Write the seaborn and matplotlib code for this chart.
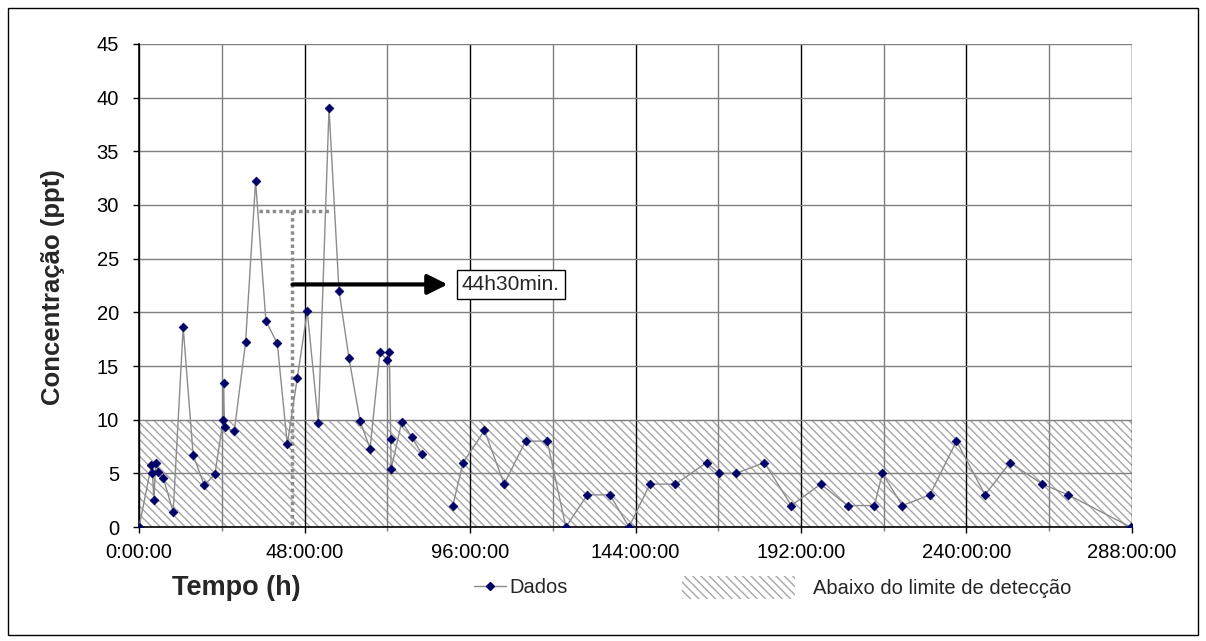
import matplotlib
matplotlib.use("Agg")
import matplotlib.pyplot as plt
from matplotlib.lines import Line2D
from matplotlib.patches import Patch, Rectangle
from matplotlib.ticker import MultipleLocator, FuncFormatter
import seaborn as sns
import pandas as pd

# tempo em horas desde o inicio da coleta
tempo_1 = [0, 3.6, 3.9, 4.3, 4.8, 5.6, 7.0, 9.9, 12.8, 15.7, 18.9, 22.0,
           24.4, 24.5, 24.8, 27.6, 30.9, 33.8, 36.8, 40.1, 43.0, 45.9, 48.8,
           52.0, 55.1, 58.0, 60.9, 64.1, 67.0, 69.9, 71.8, 72.6, 73.0, 73.1,
           76.2, 79.1, 82.0]
conc_1 = [0, 5.8, 5.0, 2.5, 6.0, 5.1, 4.6, 1.4, 18.6, 6.7, 3.9, 4.9,
          10.0, 13.4, 9.3, 8.9, 17.2, 32.2, 19.2, 17.1, 7.7, 13.9, 20.1,
          9.7, 39.0, 22.0, 15.7, 9.9, 7.3, 16.3, 15.6, 16.3, 8.2, 5.4,
          9.8, 8.4, 6.8]
tempo_2 = [91.0, 94.0, 100.2, 105.9, 112.1, 118.4, 123.8, 130.0, 136.6,
           142.1, 148.2, 155.6, 164.6, 168.3, 173.1, 181.4, 189.2, 197.7,
           205.5, 213.3, 215.6, 221.4, 229.4, 237.1, 245.4, 252.6, 262.0,
           269.5, 287.6]
conc_2 = [2, 6, 9, 4, 8, 8, 0, 3, 3, 0, 4, 4, 6, 5, 5, 6, 2, 4, 2, 2, 5,
          2, 3, 8, 3, 6, 4, 3, 0]

limite_deteccao = 10
t_meia = 44.5          # 44h30min
c_meia = 29.45
t_pico1, t_pico2 = 34.9, 55.4
y_seta = 22.6
x_ticks = [0, 48, 96, 144, 192, 240, 288]

df = pd.DataFrame({
    "tempo": tempo_1 + tempo_2,
    "conc": conc_1 + conc_2,
    "trecho": [1] * len(tempo_1) + [2] * len(tempo_2),
})

sns.set_style("white")
plt.rcParams["font.family"] = ["Liberation Sans", "DejaVu Sans"]
plt.rcParams["hatch.linewidth"] = 1.0

fig = plt.figure(figsize=(12.06, 6.41), dpi=100)
ax = fig.add_axes([0.1153, 0.1778, 0.8233, 0.7536])

# faixa abaixo do limite de deteccao (atras da grade)
ax.axhspan(0, limite_deteccao, facecolor="none", edgecolor="#a6a6a6",
           hatch="\\\\\\\\", linewidth=0, zorder=0.3)

sns.lineplot(data=df, x="tempo", y="conc", units="trecho", estimator=None,
             sort=False, color="#8c8c8c", linewidth=1, ax=ax, zorder=3)
sns.scatterplot(data=df, x="tempo", y="conc", marker="D", s=20,
                color="#000066", edgecolor="#000066", linewidth=0.5,
                ax=ax, zorder=4)

# linhas pontilhadas da meia-vida
ax.plot([t_pico1, t_pico2], [c_meia, c_meia], color="#8c8c8c",
        linestyle=(0, (1, 0.9)), linewidth=2.5, zorder=2)
ax.plot([t_meia, t_meia], [c_meia, 0], color="#8c8c8c",
        linestyle=(0, (1, 0.9)), linewidth=2.5, zorder=2)

ax.annotate("", xy=(89.5, y_seta), xytext=(t_meia, y_seta),
            arrowprops=dict(arrowstyle="-|>", color="black", lw=3,
                            mutation_scale=30, shrinkA=0, shrinkB=0),
            zorder=5)
ax.text(93.6, y_seta, "44h30min.", ha="left", va="center", fontsize=15,
        bbox=dict(boxstyle="square,pad=0.25", facecolor="white",
                  edgecolor="black", linewidth=1), zorder=6)

ax.set_xlim(0, 288)
ax.set_ylim(0, 45)
ax.set_xticks(x_ticks)
ax.xaxis.set_minor_locator(MultipleLocator(24))
ax.yaxis.set_major_locator(MultipleLocator(5))
ax.xaxis.set_major_formatter(FuncFormatter(lambda v, p: f"{int(v)}:00:00"))
ax.set_xlabel("")
ax.set_ylabel("")

ax.set_axisbelow(True)
ax.grid(which="major", axis="x", color="black", linewidth=1)
ax.grid(which="minor", axis="x", color="#7f7f7f", linewidth=1)
ax.grid(which="major", axis="y", color="#7f7f7f", linewidth=1)

for side in ["top", "right"]:
    ax.spines[side].set_visible(False)
for side in ["left", "bottom"]:
    ax.spines[side].set_color("black")
    ax.spines[side].set_linewidth(1.2)

ax.tick_params(axis="both", which="major", direction="out", length=4.5,
               width=1, color="black", labelsize=14.5, labelcolor="black",
               left=True, bottom=True)
ax.tick_params(axis="y", which="major", pad=10)
ax.tick_params(axis="x", which="major", pad=7)
ax.tick_params(axis="x", which="minor", direction="out", length=3,
               width=1, color="#7f7f7f", bottom=True)

fig.text(0.044, 0.552, "Concentração (ppt)", rotation=90, ha="center",
         va="center", fontsize=18.5, fontweight="bold")
fig.text(0.1957, 0.083, "Tempo (h)", ha="center", va="center",
         fontsize=19.5, fontweight="bold")

h_dados = Line2D([], [], color="#8c8c8c", linewidth=1, marker="D",
                 markersize=3.8, markerfacecolor="#000066",
                 markeredgecolor="#000066")
h_limite = Patch(facecolor="white", edgecolor="#a6a6a6", hatch="\\\\\\\\",
                 linewidth=0)

fig.legend([h_dados], ["Dados"], loc="center left",
           bbox_to_anchor=(0.393, 0.083), frameon=False,
           fontsize=14.5, handlelength=1.6, handletextpad=0.15,
           borderpad=0, borderaxespad=0)
fig.legend([h_limite], ["Abaixo do limite de detecção"], loc="center left",
           bbox_to_anchor=(0.5655, 0.083), frameon=False, fontsize=14.5,
           handlelength=5.6, handleheight=1.4, handletextpad=0.9,
           borderpad=0, borderaxespad=0)

fig.add_artist(Rectangle((0.0066, 0.0094), 0.9867, 0.978,
                         transform=fig.transFigure, fill=False,
                         edgecolor="black", linewidth=1))

fig.savefig("out.png", dpi=100)
